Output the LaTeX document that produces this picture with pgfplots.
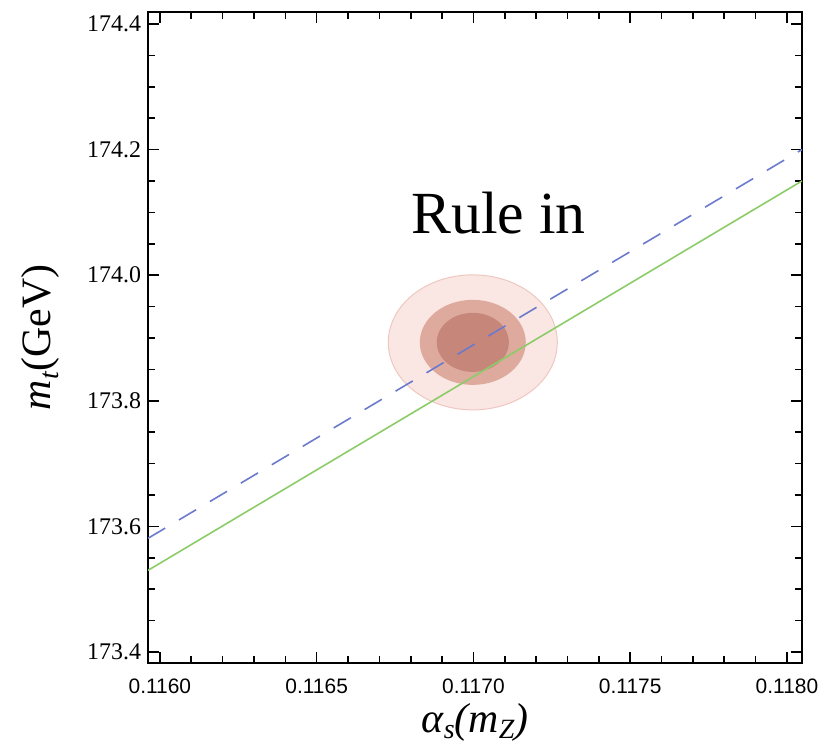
\documentclass[border=0pt]{standalone}
\usepackage{pgfplots}
\pgfplotsset{compat=1.18}
\usepackage{fontspec}
\setmainfont{Liberation Serif}
\newfontfamily\ticksans{Liberation Sans}
\usetikzlibrary{calc}
\definecolor{dashblue}{RGB}{108,122,206}
\definecolor{lgreen}{RGB}{140,204,104}
\definecolor{ellA}{RGB}{250,230,226}
\definecolor{ellAb}{RGB}{238,200,192}
\definecolor{ellB}{RGB}{222,170,158}
\definecolor{ellC}{RGB}{198,134,122}
\begin{document}
\begin{tikzpicture}
\begin{axis}[name=ax, scale only axis, width=327bp, height=325.5bp,
  xmin=0.115962, xmax=0.118048, ymin=173.3825, ymax=174.419,
  xtick={0.1160,0.1165,0.1170,0.1175,0.1180},
  ytick={173.4,173.6,173.8,174.0,174.2,174.4},
  minor x tick num=4, minor y tick num=3,
  tick align=inside, major tick length=5.5bp, minor tick length=3.5bp,
  axis line style={line width=1bp},
  every tick/.style={black, line width=0.8bp},
  scaled x ticks=false, scaled y ticks=false,
  xticklabel style={font=\ticksans\fontsize{10.5}{12}\selectfont, yshift=-4.5bp,
    /pgf/number format/.cd, fixed, fixed zerofill, precision=4, assume math mode=true},
  yticklabel style={font=\fontsize{12}{14}\selectfont,
    /pgf/number format/.cd, fixed, fixed zerofill, precision=1, assume math mode=true},
  xlabel={\textit{α}\raisebox{-0.35ex}{\fontsize{14}{16}\selectfont\textit{s}}\textit{(m}\raisebox{-0.35ex}{\fontsize{14}{16}\selectfont\textit{Z}}\textit{)}},
  xlabel style={font=\fontsize{21}{24}\selectfont, at={(axis description cs:0.5,0)}, anchor=center, yshift=-29.5bp},
  ylabel={\textit{m}\raisebox{-0.45ex}{\fontsize{14}{16}\selectfont\textit{t}}(GeV)},
  ylabel style={font=\fontsize{21}{24}\selectfont, at={(axis description cs:-0.165,0.5)}, anchor=center},
]
% confidence regions
\fill[ellA, draw=ellAb, line width=0.5bp] (axis cs:0.116998,173.893) ellipse [x radius=0.0002695, y radius=0.1075];
\fill[ellB] (axis cs:0.116998,173.893) ellipse [x radius=0.000169, y radius=0.0677];
\fill[ellC] (axis cs:0.116998,173.893) ellipse [x radius=0.000115, y radius=0.047];
% lines
\addplot[mark=none, dashblue, line width=0.8bp, dash pattern=on 10bp off 8bp] coordinates {(0.115962,173.581) (0.118048,174.200)};
\addplot[mark=none, lgreen, line width=0.8bp] coordinates {(0.115962,173.530) (0.118048,174.150)};
\node[font=\fontsize{30}{34}\selectfont] at (axis cs:0.11708,174.099) {Rule in};
\end{axis}
\path[use as bounding box] ($(ax.south west)+(-74bp,-45.5bp)$) rectangle ($(ax.north east)+(15bp,6bp)$);
\end{tikzpicture}
\end{document}
